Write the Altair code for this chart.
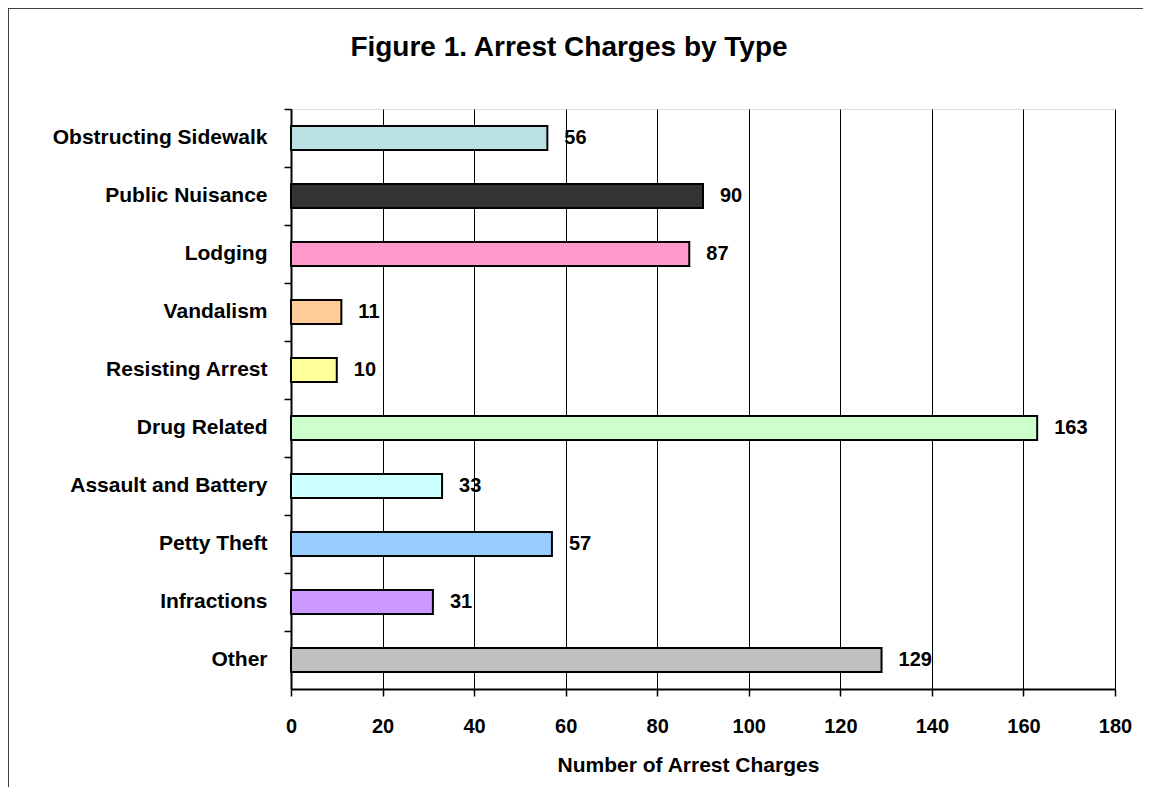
import altair as alt
import pandas as pd

categories = ["Obstructing Sidewalk", "Public Nuisance", "Lodging", "Vandalism",
              "Resisting Arrest", "Drug Related", "Assault and Battery",
              "Petty Theft", "Infractions", "Other"]
values = [56, 90, 87, 11, 10, 163, 33, 57, 31, 129]
colors = ["#BBE0E3", "#333333", "#FF99CC", "#FFCC99", "#FFFF99",
          "#CCFFCC", "#CCFFFF", "#99CCFF", "#CC99FF", "#C0C0C0"]
x_ticks = [0, 20, 40, 60, 80, 100, 120, 140, 160, 180]
title_text = "Figure 1. Arrest Charges by Type"

df = pd.DataFrame({"cat": categories, "val": values})

FONT = "Liberation Sans"

y_enc = alt.Y("cat:N", sort=categories,
              scale=alt.Scale(paddingInner=0, paddingOuter=0),
              axis=alt.Axis(title=None, bandPosition=0, labelFontSize=21,
                            labelFont=FONT, labelColor="black", labelPadding=17,
                            labelFontWeight="bold", labelLimit=0,
                            tickSize=7, tickColor="black", tickWidth=1.5,
                            domainColor="black", domainWidth=2, grid=False))
x_enc = alt.X("val:Q", scale=alt.Scale(domain=[0, 180], nice=False),
              axis=alt.Axis(values=x_ticks, title="Number of Arrest Charges",
                            titleFont=FONT, titleFontSize=21, titleFontWeight="bold",
                            titleColor="black", titlePadding=18, titleX=397,
                            labelFont=FONT, labelFontSize=20, labelColor="black",
                            labelFontWeight="bold", labelFlush=False,
                            labelPadding=20, tickSize=7, tickColor="black",
                            tickWidth=1.5, domainColor="black", domainWidth=2,
                            grid=True, gridColor="black", gridWidth=1, gridOpacity=1))

bars = alt.Chart(df).mark_bar(height=24, stroke="black", strokeWidth=2).encode(
    x=x_enc,
    y=y_enc,
    color=alt.Color("cat:N", scale=alt.Scale(domain=categories, range=colors), legend=None),
)

labels = alt.Chart(df).mark_text(align="left", baseline="middle", dx=17,
                                 fontSize=20, font=FONT, fontWeight="bold",
                                 color="black").encode(
    x=alt.X("val:Q"),
    y=alt.Y("cat:N", sort=categories),
    text=alt.Text("val:Q"),
)

frame_data = alt.Data(values=[{"t": title_text}])
left_border = alt.Chart(frame_data).mark_rule(color="#404040", strokeWidth=2).encode(
    x=alt.value(-283), y=alt.value(-101), y2=alt.value(720))
top_border = alt.Chart(frame_data).mark_rule(color="#404040", strokeWidth=2).encode(
    x=alt.value(-284), x2=alt.value(852), y=alt.value(-101))
title = alt.Chart(frame_data).mark_text(align="center", baseline="alphabetic",
                                        fontSize=28, font=FONT, fontWeight="bold",
                                        color="black").encode(
    x=alt.value(278), y=alt.value(-53), text="t:N")

chart = alt.layer(bars, labels, left_border, top_border, title).properties(
    width=824, height=580,
    autosize=alt.AutoSizeParams(type="none"),
    padding={"left": 283, "top": 101, "right": 28, "bottom": 98},
).configure_view(stroke="black", strokeWidth=2).configure(background="white")

chart.save("out.html", embed_options={"renderer": "svg", "actions": False})
